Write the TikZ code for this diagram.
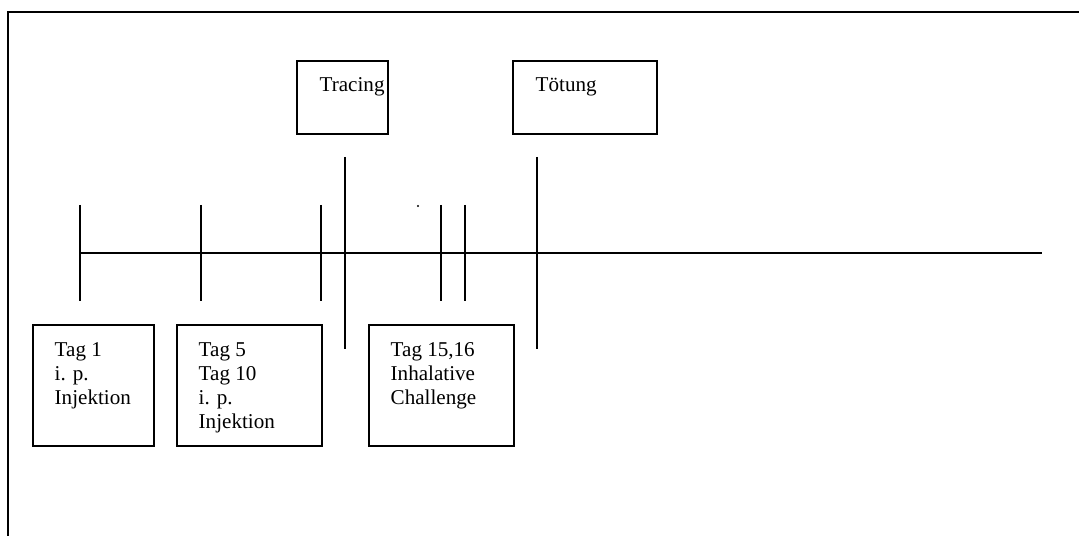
\documentclass[tikz,border=0pt]{standalone}
\usepackage{fontspec}
\setmainfont{Liberation Serif}
\tikzset{
  txt/.style={anchor=north west, inner sep=0pt, align=left, font=\fontsize{15}{17}\selectfont},
  frame/.style={line width=1.4pt}
}
\begin{document}
\begin{tikzpicture}[x=0.025cm, y=-0.025cm, line width=1pt]
        \useasboundingbox (0,0) rectangle (1079,536);
        % Rahmen
        \draw[frame] (8,536) -- (8,12) -- (1079,12);
        % Zeitachse
        \draw (80,253) -- (1042,253);
        \foreach \x in {80,201,321,441,465}
            \draw (\x,205) -- (\x,301);
        \draw (345,157) -- (345,349);
        \draw (537,157) -- (537,349);
        \fill (418,206) circle (0.8pt);
        % oben
        \draw (297,61) rectangle (388,134);
        \node[txt] (tracing) at (319,77) {Tracing};
        \draw (513,61) rectangle (657,134);
        \node[txt] (toetung) at (535,77) {Tötung};
        % unten
        \draw (33,325) rectangle (154,446);
        \node[txt] (tag1) at (54,342) {Tag 1\\i. p.\\Injektion};
        \draw (177,325) rectangle (322,446);
        \node[txt] (tag5) at (198,342) {Tag 5\\Tag 10\\i. p.\\Injektion};
        \draw (369,325) rectangle (514,446);
        \node[txt] (tag15) at (390,342) {Tag 15,16\\Inhalative\\Challenge};
    \end{tikzpicture}
\end{document}
